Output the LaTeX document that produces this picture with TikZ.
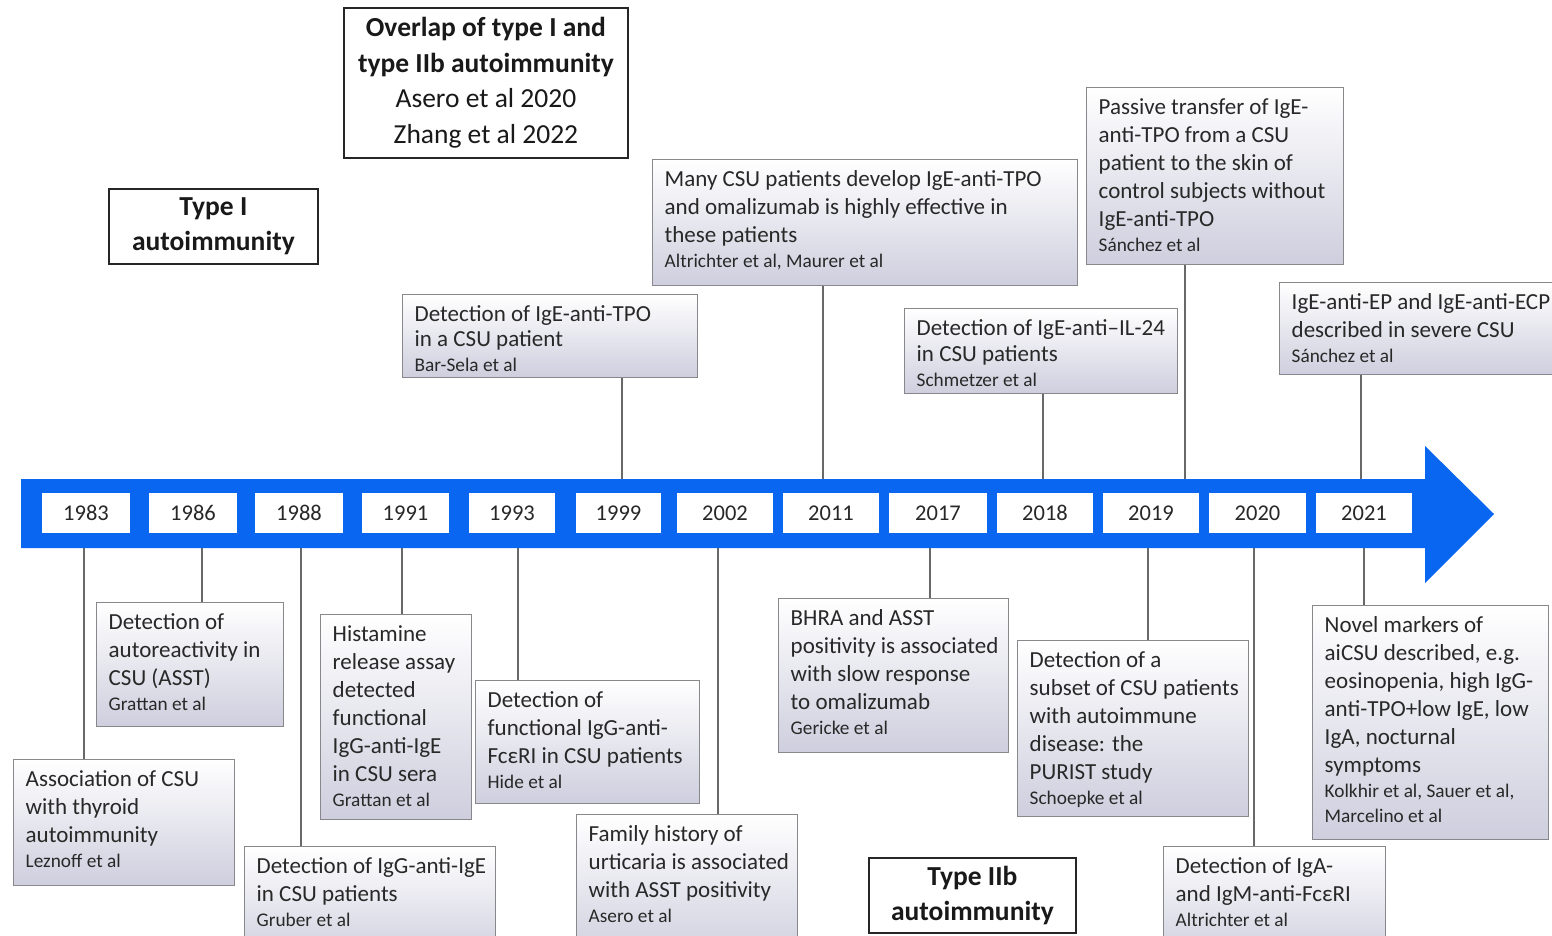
\documentclass[tikz,border=0pt]{standalone}
\usepackage{fontspec}
\setmainfont{Carlito}
\definecolor{barblue}{RGB}{8,102,240}
\definecolor{evbot}{RGB}{206,206,222}
\definecolor{evborder}{RGB}{135,135,140}
\definecolor{connc}{RGB}{105,105,105}
\definecolor{txt}{RGB}{40,40,40}
\tikzset{
  ev/.style={draw=evborder, line width=1.4pt, top color=white, bottom color=evbot,
    inner xsep=0pt, inner ysep=11pt, anchor=north west, text=txt},
  yr/.style={fill=white, inner sep=0pt, minimum height=40pt,
    font=\fontsize{22.5}{27}\selectfont, text=txt},
  ttl/.style={draw=black!85, line width=1.8pt, fill=white, align=center,
    anchor=north west, inner sep=0pt, text=black!90,
    font=\fontsize{27.5}{35.5}\selectfont},
  conn/.style={draw=connc, line width=1.4pt},
}
% [baselineskip]{name}{x1}{y1}{x2}{y2}{main lines}{citation}
\newcommand\evbox[8][28]{%
  \node[ev] (#2) at (#3,#4) {\hspace*{12pt}\parbox[t][\dimexpr #6pt-#4pt-22pt\relax][t]{\dimexpr #5pt-#3pt-14pt\relax}{\raggedright\hyphenpenalty=10000\exhyphenpenalty=10000
    \fontsize{23}{#1}\selectfont #7\par\fontsize{19.3}{25}\selectfont #8\par}\hspace*{2pt}};}
\begin{document}
\begin{tikzpicture}[x=1pt,y=-1pt]
\useasboundingbox (0,0) rectangle (1552,936);
\clip (0,0) rectangle (1552,936);
\fill[white] (0,0) rectangle (1552,936);

% timeline arrow
\fill[barblue] (21,479) -- (1425,479) -- (1425,446) -- (1494,514) -- (1425,583)
  -- (1425,548) -- (21,548) -- cycle;

% year boxes
\node[yr, minimum width=88pt] (y1983) at (86,513) {1983};
\node[yr, minimum width=88pt] (y1986) at (193,513) {1986};
\node[yr, minimum width=88pt] (y1988) at (299,513) {1988};
\node[yr, minimum width=87pt] (y1991) at (405.5,513) {1991};
\node[yr, minimum width=86pt] (y1993) at (512,513) {1993};
\node[yr, minimum width=85pt] (y1999) at (618.5,513) {1999};
\node[yr, minimum width=96pt] (y2002) at (725,513) {2002};
\node[yr, minimum width=96pt] (y2011) at (831,513) {2011};
\node[yr, minimum width=98pt] (y2017) at (938,513) {2017};
\node[yr, minimum width=96pt] (y2018) at (1045,513) {2018};
\node[yr, minimum width=96pt] (y2019) at (1151,513) {2019};
\node[yr, minimum width=97pt] (y2020) at (1257.5,513) {2020};
\node[yr, minimum width=96pt] (y2021) at (1364,513) {2021};

% connector anchor points on the bar
\coordinate (c1983) at (84,548);
\coordinate (c1986) at (202,548);
\coordinate (c1988) at (301,548);
\coordinate (c1991) at (402,548);
\coordinate (c1993) at (518,548);
\coordinate (c2002) at (718,548);
\coordinate (c2017) at (930,548);
\coordinate (c2019) at (1148,548);
\coordinate (c2020) at (1254,548);
\coordinate (c2021) at (1364,548);
\coordinate (d1999) at (622,479);
\coordinate (d2011) at (823,479);
\coordinate (d2018) at (1043,479);
\coordinate (d2019) at (1185,479);
\coordinate (d2021) at (1361,479);

% event boxes below the bar
\evbox{e1983}{13}{759}{234}{885}{Association of CSU\\with thyroid\\autoimmunity}{Leznoff et al}
\evbox{e1986}{96}{602}{283}{726}{Detection of\\autoreactivity in\\CSU (ASST)}{Grattan et al}
\evbox{e1988}{244}{846}{495}{960}{Detection of IgG-anti-IgE\\in CSU patients}{Gruber et al}
\evbox{e1991}{320}{614}{471}{819}{Histamine\\release assay\\detected\\functional\\IgG-anti-IgE\\in CSU sera}{Grattan et al}
\evbox{e1993}{475}{680}{699}{803}{Detection of\\functional IgG-anti-\\FcεRI in CSU patients}{Hide et al}
\evbox{e2002}{576}{814}{797}{960}{Family history of\\urticaria is associated\\with ASST positivity}{Asero et al}
\evbox{e2017}{778}{598}{1008}{752}{BHRA and ASST\\positivity is associated\\with slow response\\to omalizumab}{Gericke et al}
\evbox{e2019}{1017}{640}{1248}{816}{Detection of a\\subset of CSU patients\\with autoimmune\\disease: the\\PURIST study}{Schoepke et al}
\evbox{e2020}{1163}{846}{1385}{960}{Detection of IgA-\\and IgM-anti-FcεRI}{Altrichter et al}
\evbox{e2021}{1312}{605}{1548}{839}{Novel markers of\\aiCSU described, e.g.\\eosinopenia, high IgG-\\anti-TPO+low IgE, low\\IgA, nocturnal\\symptoms}{Kolkhir et al, Sauer et al,\\Marcelino et al}

% event boxes above the bar
\evbox[25]{t1999}{402}{294}{697}{377}{Detection of IgE-anti-TPO\\in a CSU patient}{Bar-Sela et al}
\evbox{t2011}{652}{159}{1077}{285}{Many CSU patients develop IgE-anti-TPO\\and omalizumab is highly effective in\\these patients}{Altrichter et al, Maurer et al}
\evbox[26]{t2018}{904}{308}{1177}{393}{Detection of IgE-anti--IL-24\\in CSU patients}{Schmetzer et al}
\evbox{t2019}{1086}{87}{1343}{264}{Passive transfer of IgE-\\anti-TPO from a CSU\\patient to the skin of\\control subjects without\\IgE-anti-TPO}{Sánchez et al}
\evbox{t2021}{1279}{282}{1580}{374}{IgE-anti-EP and IgE-anti-ECP\\described in severe CSU}{Sánchez et al}

% connectors
\draw[conn] (c1983) -- (c1983 |- e1983.north);
\draw[conn] (c1986) -- (c1986 |- e1986.north);
\draw[conn] (c1988) -- (c1988 |- e1988.north);
\draw[conn] (c1991) -- (c1991 |- e1991.north);
\draw[conn] (c1993) -- (c1993 |- e1993.north);
\draw[conn] (c2002) -- (c2002 |- e2002.north);
\draw[conn] (c2017) -- (c2017 |- e2017.north);
\draw[conn] (c2019) -- (c2019 |- e2019.north);
\draw[conn] (c2020) -- (c2020 |- e2020.north);
\draw[conn] (c2021) -- (c2021 |- e2021.north);
\draw[conn] (d1999) -- (d1999 |- t1999.south);
\draw[conn] (d2011) -- (d2011 |- t2011.south);
\draw[conn] (d2018) -- (d2018 |- t2018.south);
\draw[conn] (d2019) -- (d2019 |- t2019.south);
\draw[conn] (d2021) -- (d2021 |- t2021.south);

% category titles
\node[ttl, minimum width=284pt, minimum height=150pt] (overlap) at (343,7)
  {\textbf{Overlap of type I and}\\\textbf{type IIb autoimmunity}\\Asero et al 2020\\Zhang et al 2022};
\node[ttl, minimum width=209pt, minimum height=75pt] (typeI) at (108,188)
  {\textbf{Type I}\\\textbf{autoimmunity}};
\node[ttl, minimum width=207pt, minimum height=75pt] (typeIIb) at (868,857)
  {\textbf{Type IIb}\\\textbf{autoimmunity}};
\end{tikzpicture}
\end{document}
